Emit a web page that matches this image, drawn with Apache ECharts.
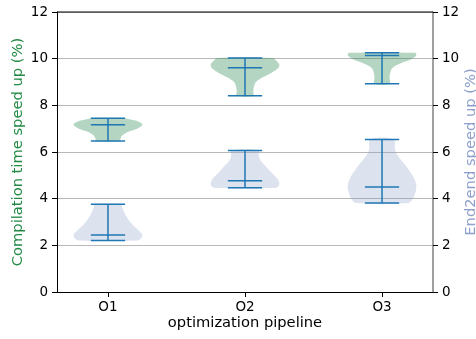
<!DOCTYPE html>
<html>
<head>
<meta charset="utf-8">
<script src="https://cdn.jsdelivr.net/npm/echarts@6/dist/echarts.min.js"></script>
<style>html,body{margin:0;padding:0;background:#fff}#c{width:476px;height:339px}</style>
</head>
<body>
<div id="c"></div>
<script>
// ---- data ----
var categories = ['O1', 'O2', 'O3'];
var positions = [1, 2, 3];
var yTicks = [0, 2, 4, 6, 8, 10, 12];

// compilation time speed up: min / median / max per pipeline
var compMin = [6.47, 8.41, 8.93];
var compMedian = [7.17, 9.61, 10.14];
var compMax = [7.45, 10.03, 10.25];
// violin profiles: [value, relative half width]
var compProfileO1 = [[6.47,0.35],[6.6,0.37],[6.75,0.45],[6.9,0.65],[7.0,0.85],[7.1,0.97],[7.2,1.0],[7.3,0.9],[7.4,0.62],[7.45,0.5]];
var compProfileO2 = [[8.41,0.24],[8.6,0.24],[8.8,0.26],[9.0,0.32],[9.2,0.52],[9.4,0.78],[9.6,0.97],[9.75,1.0],[9.9,0.92],[10.03,0.8]];
var compProfileO3 = [[8.93,0.22],[9.2,0.22],[9.4,0.24],[9.6,0.3],[9.8,0.55],[9.95,0.82],[10.1,0.98],[10.2,1.0],[10.25,0.95]];

// end2end speed up: min / median / max per pipeline
var e2eMin = [2.21, 4.47, 3.81];
var e2eMedian = [2.44, 4.77, 4.5];
var e2eMax = [3.76, 6.06, 6.54];
var e2eProfileO1 = [[2.21,0.85],[2.3,0.97],[2.45,1.0],[2.6,0.92],[2.8,0.78],[3.0,0.65],[3.2,0.55],[3.4,0.48],[3.6,0.42],[3.76,0.38]];
var e2eProfileO2 = [[4.47,0.9],[4.6,1.0],[4.8,0.97],[5.0,0.85],[5.2,0.72],[5.4,0.6],[5.6,0.47],[5.8,0.41],[6.06,0.38]];
var e2eProfileO3 = [[3.81,0.75],[4.0,0.9],[4.3,0.98],[4.6,1.0],[4.9,0.93],[5.2,0.8],[5.5,0.65],[5.8,0.48],[6.1,0.38],[6.54,0.34]];

var compProfiles = [compProfileO1, compProfileO2, compProfileO3];
var e2eProfiles = [e2eProfileO1, e2eProfileO2, e2eProfileO3];

// ---- styles ----
var HALF_WIDTH = 0.25;   // violin half width (x units)
var BAR_HALF = 0.125;    // extrema bar half width
var LINE_COLOR = '#1f77b4';
var FONT = 'DejaVu Sans';
var TICK_FS = 13.5;
var NAME_FS = 14.7;

function makeRender(profiles, mins, meds, maxs, fill, opacity) {
  return function (params, api) {
    var i = api.value(0);
    var x = positions[i];
    var prof = profiles[i];
    var pts = [];
    for (var k = 0; k < prof.length; k++) pts.push(api.coord([x + prof[k][1] * HALF_WIDTH, prof[k][0]]));
    for (var k = prof.length - 1; k >= 0; k--) pts.push(api.coord([x - prof[k][1] * HALF_WIDTH, prof[k][0]]));
    function hline(v) {
      var a = api.coord([x - BAR_HALF, v]), b = api.coord([x + BAR_HALF, v]);
      return {type: 'line', shape: {x1: a[0], y1: a[1], x2: b[0], y2: b[1]}, style: {stroke: LINE_COLOR, lineWidth: 1.5}};
    }
    var top = api.coord([x, maxs[i]]), bot = api.coord([x, mins[i]]);
    return {
      type: 'group',
      children: [
        {type: 'polygon', shape: {points: pts, smooth: 0.35}, style: {fill: fill, opacity: opacity}},
        {type: 'line', shape: {x1: top[0], y1: top[1], x2: bot[0], y2: bot[1]}, style: {stroke: LINE_COLOR, lineWidth: 1.5}},
        hline(maxs[i]), hline(mins[i]), hline(meds[i])
      ]
    };
  };
}

var chart = echarts.init(document.getElementById('c'), null, {renderer: 'canvas'});
chart.setOption({
  animation: false,
  grid: {left: 57, right: 43, top: 12, bottom: 47, containLabel: false, outerBoundsMode: 'none'},
  xAxis: {
    type: 'value', min: 0.628, max: 3.372,
    name: 'optimization pipeline', nameLocation: 'middle', nameGap: 24, nameMoveOverlap: false,
    nameTextStyle: {fontFamily: FONT, fontSize: NAME_FS, color: '#000'},
    axisLine: {lineStyle: {color: '#000', width: 1}},
    axisTick: {show: true, length: 5, inside: false, customValues: positions, lineStyle: {color: '#000'}},
    axisLabel: {customValues: positions, margin: 8, fontFamily: FONT, fontSize: TICK_FS, color: '#000',
      formatter: function (v) { return categories[Math.round(v) - 1]; }},
    splitLine: {show: false}
  },
  yAxis: [{
    type: 'value', min: 0, max: 12, interval: 2, position: 'left',
    name: 'Compilation time speed up (%)', nameLocation: 'middle', nameGap: 31, nameMoveOverlap: false,
    nameTextStyle: {fontFamily: FONT, fontSize: NAME_FS, color: '#238b45'},
    axisLine: {show: true, lineStyle: {color: '#000'}},
    axisTick: {show: true, length: 5, lineStyle: {color: '#000'}},
    axisLabel: {margin: 9, fontFamily: FONT, fontSize: TICK_FS, color: '#000',
      formatter: function (v) { return yTicks.indexOf(v) >= 0 ? String(v) : ''; }},
    splitLine: {show: true, lineStyle: {color: '#b8b8b8', width: 1}}
  }, {
    type: 'value', min: 0, max: 12, interval: 2, position: 'right',
    name: 'End2end speed up (%)', nameLocation: 'middle', nameGap: 31, nameMoveOverlap: false,
    nameTextStyle: {fontFamily: FONT, fontSize: NAME_FS, color: '#8da0cb'},
    axisLine: {show: true, lineStyle: {color: '#808080', width: 1.5}},
    axisTick: {show: true, length: 5, lineStyle: {color: '#000'}},
    axisLabel: {margin: 9, fontFamily: FONT, fontSize: TICK_FS, color: '#000'},
    splitLine: {show: false}
  }],
  graphic: [{type: 'line', shape: {x1: 57, y1: 12, x2: 433, y2: 12}, style: {stroke: '#000', lineWidth: 1}, z: 10}],
  series: [{
    type: 'custom', yAxisIndex: 0, clip: false,
    renderItem: makeRender(compProfiles, compMin, compMedian, compMax, '#2e8b57', 0.36),
    data: [[0], [1], [2]], encode: {x: -1, y: -1}
  }, {
    type: 'custom', yAxisIndex: 1, clip: false,
    renderItem: makeRender(e2eProfiles, e2eMin, e2eMedian, e2eMax, '#8da0cb', 0.3),
    data: [[0], [1], [2]], encode: {x: -1, y: -1}
  }]
});
</script>
</body>
</html>
